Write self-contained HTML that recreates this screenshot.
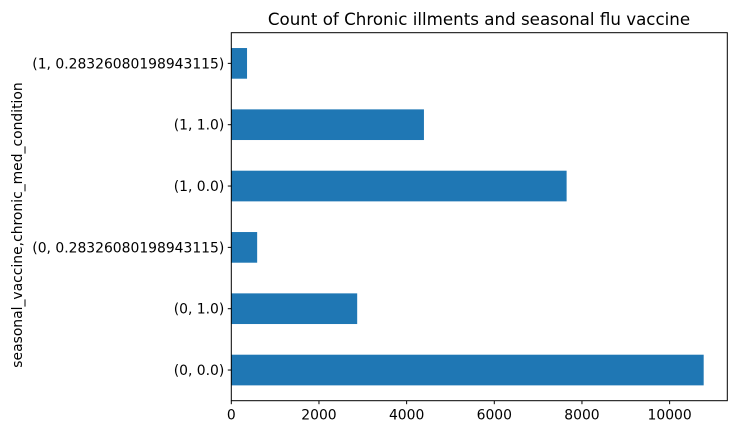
<!DOCTYPE html>
<html><head><meta charset="utf-8"><style>body{margin:0;background:#fff}svg{display:block;font-family:"DejaVu Sans","Liberation Sans",sans-serif}</style></head>
<body>
<svg id="chart" width="736" height="435">
<text x="479" y="25" font-size="16.7" text-anchor="middle">Count of Chronic illments and seasonal flu vaccine</text>
<text transform="translate(22,225) rotate(-90)" font-size="13.9" text-anchor="middle">seasonal_vaccine,chronic_med_condition</text>
<g id="bars"></g><g id="xticks"></g><g id="yticks"></g>
<rect x="231.3" y="32.7" width="496" height="368" fill="none" stroke="#000" stroke-width="1"/>
</svg>
<script>
const categories=["(0, 0.0)","(0, 1.0)","(0, 0.28326080198943115)","(1, 0.0)","(1, 1.0)","(1, 0.28326080198943115)"];
const counts=[10777,2872,590,7650,4395,359];
const xTickValues=[0,2000,4000,6000,8000,10000];
const L=231.3,R=727.3,T=32.7,B=400.7;
const xmax=Math.max(...counts)*1.05;
const xs=v=>L+v/xmax*(R-L);
const step=(B-T)/categories.length;
const yc=i=>B-(i+0.5)*step;
const ns="http://www.w3.org/2000/svg";
const bars=document.getElementById('bars'),xt=document.getElementById('xticks'),yt=document.getElementById('yticks');
function mk(t,a){const e=document.createElementNS(ns,t);for(const k in a)e.setAttribute(k,a[k]);return e;}
counts.forEach((v,i)=>{
const r=mk('rect',{x:L,y:yc(i)-step*0.25,width:xs(v)-L,height:step*0.5,fill:'#1f77b4'});


bars.appendChild(r);
const tk=mk('line',{x1:L-3.5,x2:L,y1:yc(i),y2:yc(i),stroke:'#000'});


yt.appendChild(tk);
const t=mk('text',{x:L-7,y:yc(i)+5,'font-size':13.9,'text-anchor':'end'});
t.textContent=categories[i];


yt.appendChild(t);
});
xTickValues.forEach(v=>{
const tk=mk('line',{x1:xs(v),x2:xs(v),y1:B,y2:B+3.5,stroke:'#000'});


xt.appendChild(tk);
const t=mk('text',{x:xs(v),y:B+19,'font-size':13.9,'text-anchor':'middle'});
t.textContent=v;


xt.appendChild(t);
});
</script>
</body></html>
